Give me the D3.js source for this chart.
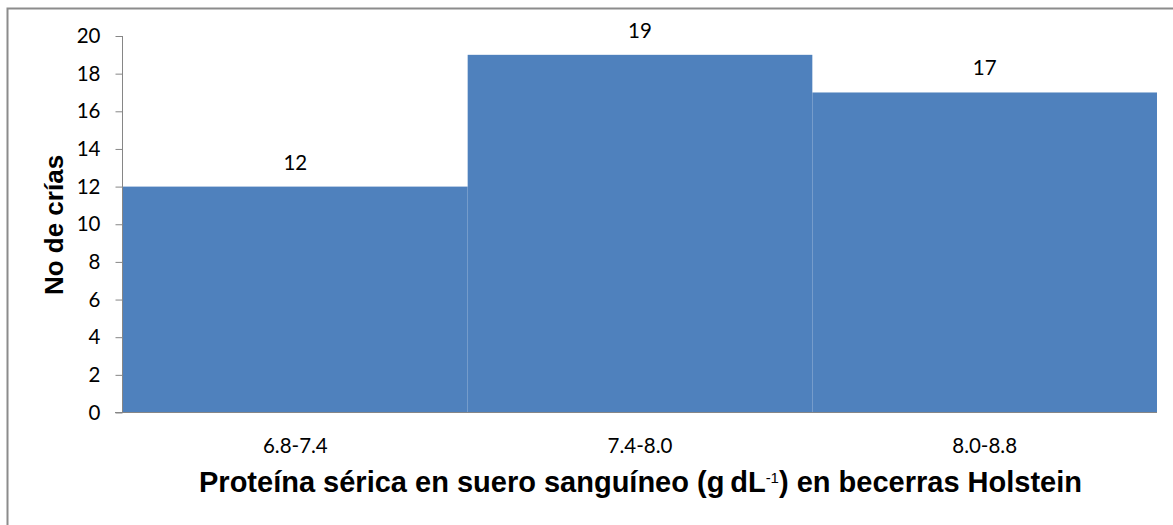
<!DOCTYPE html>
<html>
<head>
<meta charset="utf-8">
<script src="https://cdn.jsdelivr.net/npm/d3@7/dist/d3.min.js"></script>
<style>
  html, body { margin: 0; padding: 0; background: #fff; }
  svg { display: block; }
</style>
</head>
<body>
<svg id="chart" width="1173" height="525"></svg>
<script>
// Serum protein ranges and number of calves in each
const categories = ["6.8-7.4", "7.4-8.0", "8.0-8.8"];
const counts = [12, 19, 17];
const yTicks = [0, 2, 4, 6, 8, 10, 12, 14, 16, 18, 20];

const svg = d3.select("#chart");
const W = 1173, H = 525;
const labelFont = "Lato, 'Open Sans', sans-serif";
const titleFont = "'Liberation Sans', Arial, sans-serif";

// outer chart frame
svg.append("rect")
  .attr("x", 7.5).attr("y", 8.5)
  .attr("width", W + 20).attr("height", H + 20)
  .attr("fill", "none").attr("stroke", "#8c8c8c").attr("stroke-width", 2);

const x = d3.scaleBand()
  .domain(categories)
  .range([123, 1157])
  .padding(0);

const y = d3.scaleLinear()
  .domain([0, 20])
  .range([412.5, 36]);

// bars (no gap between classes)
svg.append("g").selectAll("rect")
  .data(categories)
  .join("rect")
  .attr("x", d => x(d))
  .attr("y", (d, i) => y(counts[i]))
  .attr("width", x.bandwidth())
  .attr("height", (d, i) => y(0) - y(counts[i]))
  .attr("fill", "#4f81bd");

// y axis
const yAxis = d3.axisLeft(y)
  .tickValues(yTicks)
  .tickSize(7)
  .tickPadding(15)
  .tickFormat(d3.format("d"));

const gy = svg.append("g")
  .attr("transform", "translate(122.5,0)")
  .call(yAxis);
gy.select(".domain").attr("stroke", "#868686").attr("d", "M0,36V412.5");
gy.selectAll(".tick line").attr("stroke", "#868686");
gy.selectAll(".tick text")
  .attr("font-family", labelFont)
  .attr("font-size", "20.5px")
  .attr("fill", "#000");

// x axis
const xAxis = d3.axisBottom(x).tickSize(0).tickPadding(26);
const gx = svg.append("g")
  .attr("transform", "translate(0,412.5)")
  .call(xAxis);
gx.select(".domain").attr("stroke", "#868686").attr("d", "M115,0H1157");
gx.selectAll(".tick text")
  .attr("font-family", labelFont)
  .attr("font-size", "20.5px")
  .attr("fill", "#000");

// value labels above bars
svg.append("g").selectAll("text")
  .data(categories)
  .join("text")
  .attr("x", d => x(d) + x.bandwidth() / 2)
  .attr("y", (d, i) => y(counts[i]) - 17)
  .attr("text-anchor", "middle")
  .attr("font-family", labelFont)
  .attr("font-size", "20.5px")
  .attr("fill", "#000")
  .text((d, i) => counts[i]);

// axis titles
const xt = svg.append("text")
  .attr("x", 640.5)
  .attr("y", 492)
  .attr("text-anchor", "middle")
  .attr("font-family", titleFont)
  .attr("font-weight", "bold")
  .attr("font-size", "29px")
  .attr("fill", "#000");
xt.append("tspan").text("Proteína sérica en suero sanguíneo (g\u2009dL");
xt.append("tspan").attr("font-size", "15px").attr("font-weight", "normal").attr("dy", -9).text("-1");
xt.append("tspan").attr("dy", 9).text(") en becerras Holstein");

svg.append("text")
  .attr("transform", "translate(63,225) rotate(-90)")
  .attr("text-anchor", "middle")
  .attr("font-family", titleFont)
  .attr("font-weight", "bold")
  .attr("font-size", "26px")
  .attr("fill", "#000")
  .text("No de crías");
</script>
</body>
</html>
